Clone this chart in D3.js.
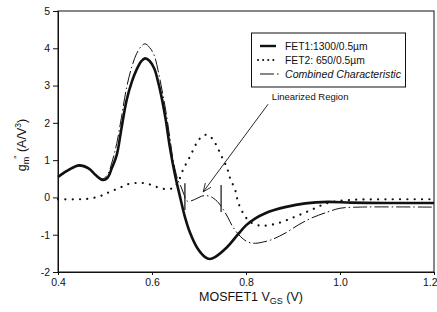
<!DOCTYPE html>
<html>
<head>
<meta charset="utf-8">
<script src="https://cdn.jsdelivr.net/npm/d3@7"></script>
<style>
  html, body { margin: 0; padding: 0; background: #fff; }
  svg { display: block; font-family: Arial, "Liberation Sans", sans-serif; }
</style>
</head>
<body>
<svg id="chart" width="437" height="312"></svg>
<script>
// ---- data ----
const xTicks = [0.4, 0.6, 0.8, 1.0, 1.2];
const yTicks = [-2, -1, 0, 1, 2, 3, 4, 5];

const seriesNames = ["FET1:1300/0.5\u00b5m", "FET2: 650/0.5\u00b5m", "Combined Characteristic"];

const fet1 = [
  [0.40,0.55],[0.42,0.72],[0.445,0.86],[0.465,0.78],[0.48,0.60],[0.495,0.47],
  [0.505,0.52],[0.515,0.80],[0.525,1.14],[0.535,1.85],[0.546,2.61],[0.557,3.10],
  [0.567,3.42],[0.577,3.65],[0.585,3.73],[0.595,3.66],[0.605,3.45],[0.613,3.10],
  [0.621,2.65],[0.629,2.10],[0.638,1.35],[0.649,0.60],[0.66,0.00],[0.67,-0.52],
  [0.681,-0.95],[0.696,-1.35],[0.713,-1.60],[0.723,-1.65],[0.734,-1.60],[0.76,-1.33],
  [0.781,-1.02],[0.80,-0.75],[0.82,-0.56],[0.84,-0.43],[0.86,-0.34],[0.883,-0.26],
  [0.926,-0.16],[0.974,-0.12],[1.023,-0.14],[1.10,-0.15],[1.20,-0.15]
];

const fet2 = [
  [0.40,-0.05],[0.44,-0.05],[0.46,-0.04],[0.48,0.00],[0.495,0.06],[0.505,0.12],
  [0.52,0.20],[0.535,0.28],[0.55,0.36],[0.57,0.39],[0.585,0.38],[0.60,0.33],
  [0.615,0.26],[0.635,0.22],[0.648,0.28],[0.656,0.42],[0.666,0.74],[0.681,1.10],
  [0.696,1.48],[0.708,1.65],[0.718,1.68],[0.73,1.55],[0.74,1.32],[0.75,1.05],
  [0.76,0.78],[0.766,0.52],[0.777,0.20],[0.783,-0.12],[0.794,-0.42],[0.809,-0.66],
  [0.834,-0.76],[0.868,-0.69],[0.904,-0.52],[0.938,-0.34],[0.974,-0.15],[1.02,-0.07],
  [1.10,-0.05],[1.20,-0.05]
];

const combined = [
  [0.40,0.53],[0.42,0.70],[0.445,0.84],[0.465,0.77],[0.48,0.60],[0.495,0.50],
  [0.505,0.60],[0.515,0.95],[0.525,1.45],[0.535,2.15],[0.546,2.95],[0.557,3.50],
  [0.567,3.85],[0.577,4.05],[0.585,4.12],[0.595,4.02],[0.605,3.80],[0.613,3.40],
  [0.621,2.90],[0.629,2.35],[0.638,1.60],[0.645,1.00],[0.655,0.47],[0.662,0.28],
  [0.668,0.08],[0.675,-0.10],[0.69,-0.06],[0.705,0.03],[0.715,0.05],[0.728,0.00],
  [0.742,-0.15],[0.752,-0.33],[0.762,-0.55],[0.772,-0.79],[0.789,-1.06],[0.805,-1.20],
  [0.82,-1.23],[0.835,-1.20],[0.853,-1.14],[0.883,-0.96],[0.911,-0.74],[0.938,-0.56],
  [0.974,-0.39],[1.0,-0.29],[1.04,-0.26],[1.20,-0.26]
];

// vertical bars bounding the linearized region: [x, yLow, yHigh]
const regionBars = [[0.67, -0.34, 0.38], [0.747, -0.39, 0.33]];
// annotation: text anchor and arrow [from, to]
const annotText = "Linearized Region";
const annotPos = [0.855, 2.6];
const annotArrow = [[0.847, 2.5], [0.709, 0.15]];

// ---- drawing ----
const svg = d3.select("#chart");
const x = d3.scaleLinear().domain([0.4, 1.2]).range([58, 434]);
const y = d3.scaleLinear().domain([-2, 5]).range([272, 11]);

const ink = "#111";

// frame
svg.append("rect")
  .attr("x", x(0.4)).attr("y", y(5))
  .attr("width", x(1.2) - x(0.4)).attr("height", y(-2) - y(5))
  .attr("fill", "none").attr("stroke", ink).attr("stroke-width", 1);

// axes
const xAxis = svg.append("g").attr("transform", `translate(0,${y(-2)})`)
  .call(d3.axisBottom(x).tickValues(xTicks).tickFormat(d3.format(".1f")).tickSize(3).tickPadding(4));
const yAxis = svg.append("g").attr("transform", `translate(${x(0.4)},0)`)
  .call(d3.axisLeft(y).tickValues(yTicks).tickFormat(d => String(d)).tickSize(5).tickPadding(3));
[xAxis, yAxis].forEach(g => {
  g.select(".domain").attr("stroke", ink);
  g.selectAll(".tick line").attr("stroke", ink);
  g.selectAll(".tick text").attr("fill", ink).style("font-size", "10.5px")
    .style("font-family", "Arial, 'Liberation Sans', sans-serif");
});
// keep the last x tick label inside the window
xAxis.selectAll(".tick text").filter(d => d === xTicks[xTicks.length - 1])
  .attr("text-anchor", "end").attr("dx", 3);

// lines
const line = d3.line().x(d => x(d[0])).y(d => y(d[1])).curve(d3.curveCatmullRom.alpha(0.5));

svg.append("path").datum(fet2).attr("d", line)
  .attr("fill", "none").attr("stroke", ink).attr("stroke-width", 2.2)
  .attr("stroke-linecap", "round").attr("stroke-dasharray", "0.1,7.2");

svg.append("path").datum(combined).attr("d", line)
  .attr("fill", "none").attr("stroke", ink).attr("stroke-width", 1)
  .attr("stroke-dasharray", "14,3,1.5,3");

svg.append("path").datum(fet1).attr("d", line)
  .attr("fill", "none").attr("stroke", ink).attr("stroke-width", 2.6)
  .attr("stroke-linejoin", "round");

// region bars
svg.selectAll(".rbar").data(regionBars).join("line")
  .attr("x1", d => x(d[0])).attr("x2", d => x(d[0]))
  .attr("y1", d => y(d[1])).attr("y2", d => y(d[2]))
  .attr("stroke", ink).attr("stroke-width", 1.2);

// annotation
svg.append("text").attr("x", x(annotPos[0])).attr("y", y(annotPos[1]))
  .attr("fill", ink).style("font-size", "9.5px").text(annotText);
const [a0, a1] = annotArrow;
const sx = x(a0[0]), sy = y(a0[1]), ex = x(a1[0]), ey = y(a1[1]);
svg.append("line").attr("x1", sx).attr("y1", sy).attr("x2", ex).attr("y2", ey)
  .attr("stroke", ink).attr("stroke-width", 0.9);
const ang = Math.atan2(sy - ey, sx - ex);
[-0.4, 0.4].forEach(da => {
  svg.append("line").attr("x1", ex).attr("y1", ey)
    .attr("x2", ex + 9 * Math.cos(ang + da)).attr("y2", ey + 9 * Math.sin(ang + da))
    .attr("stroke", ink).attr("stroke-width", 0.9);
});

// legend
const lg = svg.append("g");
lg.append("rect").attr("x", 251.5).attr("y", 33).attr("width", 154).attr("height", 54)
  .attr("fill", "#fff").attr("stroke", ink).attr("stroke-width", 1);
const legStyles = [
  {w: 2.4, dash: null, cap: "butt"},
  {w: 2, dash: "0.1,5", cap: "round"},
  {w: 1, dash: "14,3,1.5,3", cap: "butt"}
];
seriesNames.forEach((name, i) => {
  const cy = 46 + i * 14;
  const st = legStyles[i];
  const l = lg.append("line").attr("x1", i === 1 ? 258 : 260).attr("x2", i === 2 ? 280 : 276)
    .attr("y1", cy).attr("y2", cy).attr("stroke", ink).attr("stroke-width", st.w)
    .attr("stroke-linecap", st.cap);
  if (st.dash) l.attr("stroke-dasharray", st.dash);
  lg.append("text").attr("x", 285).attr("y", cy + 3.5).attr("fill", ink)
    .style("font-size", i === 2 ? "10.6px" : "10.3px").style("font-style", i === 2 ? "italic" : "normal")
    .text(name);
});

// x axis title
const xt = svg.append("text").attr("x", 251).attr("y", 301).attr("text-anchor", "middle")
  .attr("fill", ink).style("font-size", "12.5px");
xt.append("tspan").text("MOSFET1 V");
xt.append("tspan").attr("dy", 3).style("font-size", "9px").text("GS");
xt.append("tspan").attr("dy", -3).text(" (V)");

// y axis title
const yt = svg.append("text").attr("transform", "translate(26,145) rotate(-90)")
  .attr("text-anchor", "middle").attr("fill", ink).style("font-size", "12.5px");
yt.append("tspan").text("g");
yt.append("tspan").attr("dy", 3).style("font-size", "9px").text("m");
yt.append("tspan").attr("dy", -9).attr("dx", -2).style("font-size", "9px").text("\u2033");
yt.append("tspan").attr("dy", 6).text(" (A/V");
yt.append("tspan").attr("dy", -5).style("font-size", "8.5px").text("3");
yt.append("tspan").attr("dy", 5).text(")");
</script>
</body>
</html>
